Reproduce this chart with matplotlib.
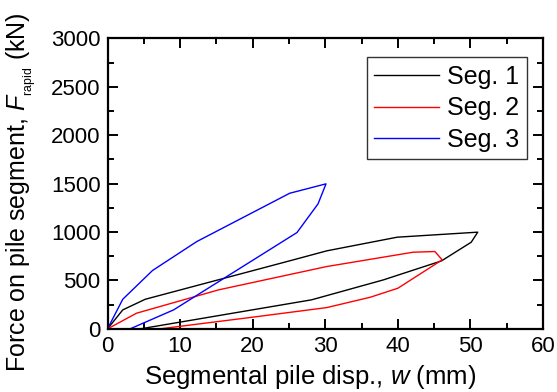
import matplotlib
matplotlib.use("Agg")
import matplotlib.pyplot as plt
from matplotlib.ticker import MultipleLocator

plt.rcParams['font.family'] = ['Liberation Sans', 'DejaVu Sans']
plt.rcParams['mathtext.fontset'] = 'custom'
plt.rcParams['mathtext.rm'] = 'Liberation Sans'
plt.rcParams['mathtext.it'] = 'Liberation Sans:italic'

# Seg. 1 loop (disp mm, force kN)
seg1_w = [0, 2.1, 5.2, 25.6, 30.2, 39.9, 51.0, 50.1, 46.0, 38.0, 28.1, 4.5]
seg1_f = [0, 196, 306, 713, 806, 947, 999, 895, 702, 506, 300, 0]

# Seg. 2 loop
seg2_w = [0, 4.0, 15.3, 30.2, 42.1, 45.1, 46.1, 40.0, 36.2, 30.2, 19.9, 7.2]
seg2_f = [0, 162, 403, 644, 792, 799, 713, 420, 327, 220, 120, 0]

# Seg. 3 loop
seg3_w = [0, 2.1, 6.2, 12.3, 25.1, 30.1, 29.0, 26.1, 9.1, 3.1]
seg3_f = [0, 306, 603, 902, 1401, 1498, 1291, 995, 196, 0]

fig = plt.figure(figsize=(5.57, 3.92), dpi=100)
ax = fig.add_axes([0.193, 0.161, 0.782, 0.741])

ax.plot(seg1_w, seg1_f, color='black', lw=1.0, label='Seg. 1')
ax.plot(seg2_w, seg2_f, color='red', lw=1.0, label='Seg. 2')
ax.plot(seg3_w, seg3_f, color='blue', lw=1.0, label='Seg. 3')

ax.set_xlim(0, 60)
ax.set_ylim(0, 3000)
ax.xaxis.set_major_locator(MultipleLocator(10))
ax.xaxis.set_minor_locator(MultipleLocator(5))
ax.yaxis.set_major_locator(MultipleLocator(500))
ax.yaxis.set_minor_locator(MultipleLocator(250))
ax.tick_params(which='both', direction='in', top=True, right=True, width=1.4, labelsize=16)
ax.tick_params(which='major', length=7, pad=5)
ax.tick_params(which='minor', length=4)
for s in ax.spines.values():
    s.set_linewidth(1.6)

ax.set_xlabel('Segmental pile disp., $w$ (mm)', fontsize=18.5)
ax.xaxis.set_label_coords(0.466, -0.118)
ax.set_ylabel(r'Force on pile segment, $F_{_{\rm rapid}}$ (kN)', fontsize=18)
ax.yaxis.set_label_coords(-0.16, 0.47)

leg = ax.legend(loc='upper right', bbox_to_anchor=(0.962, 0.935), fontsize=18, frameon=True,
                fancybox=False, edgecolor='black', handlelength=2.6, borderpad=0.3,
                labelspacing=0.3, handletextpad=0.3, borderaxespad=0)
leg.get_frame().set_linewidth(1.0)

fig.savefig('out.png', dpi=100)
